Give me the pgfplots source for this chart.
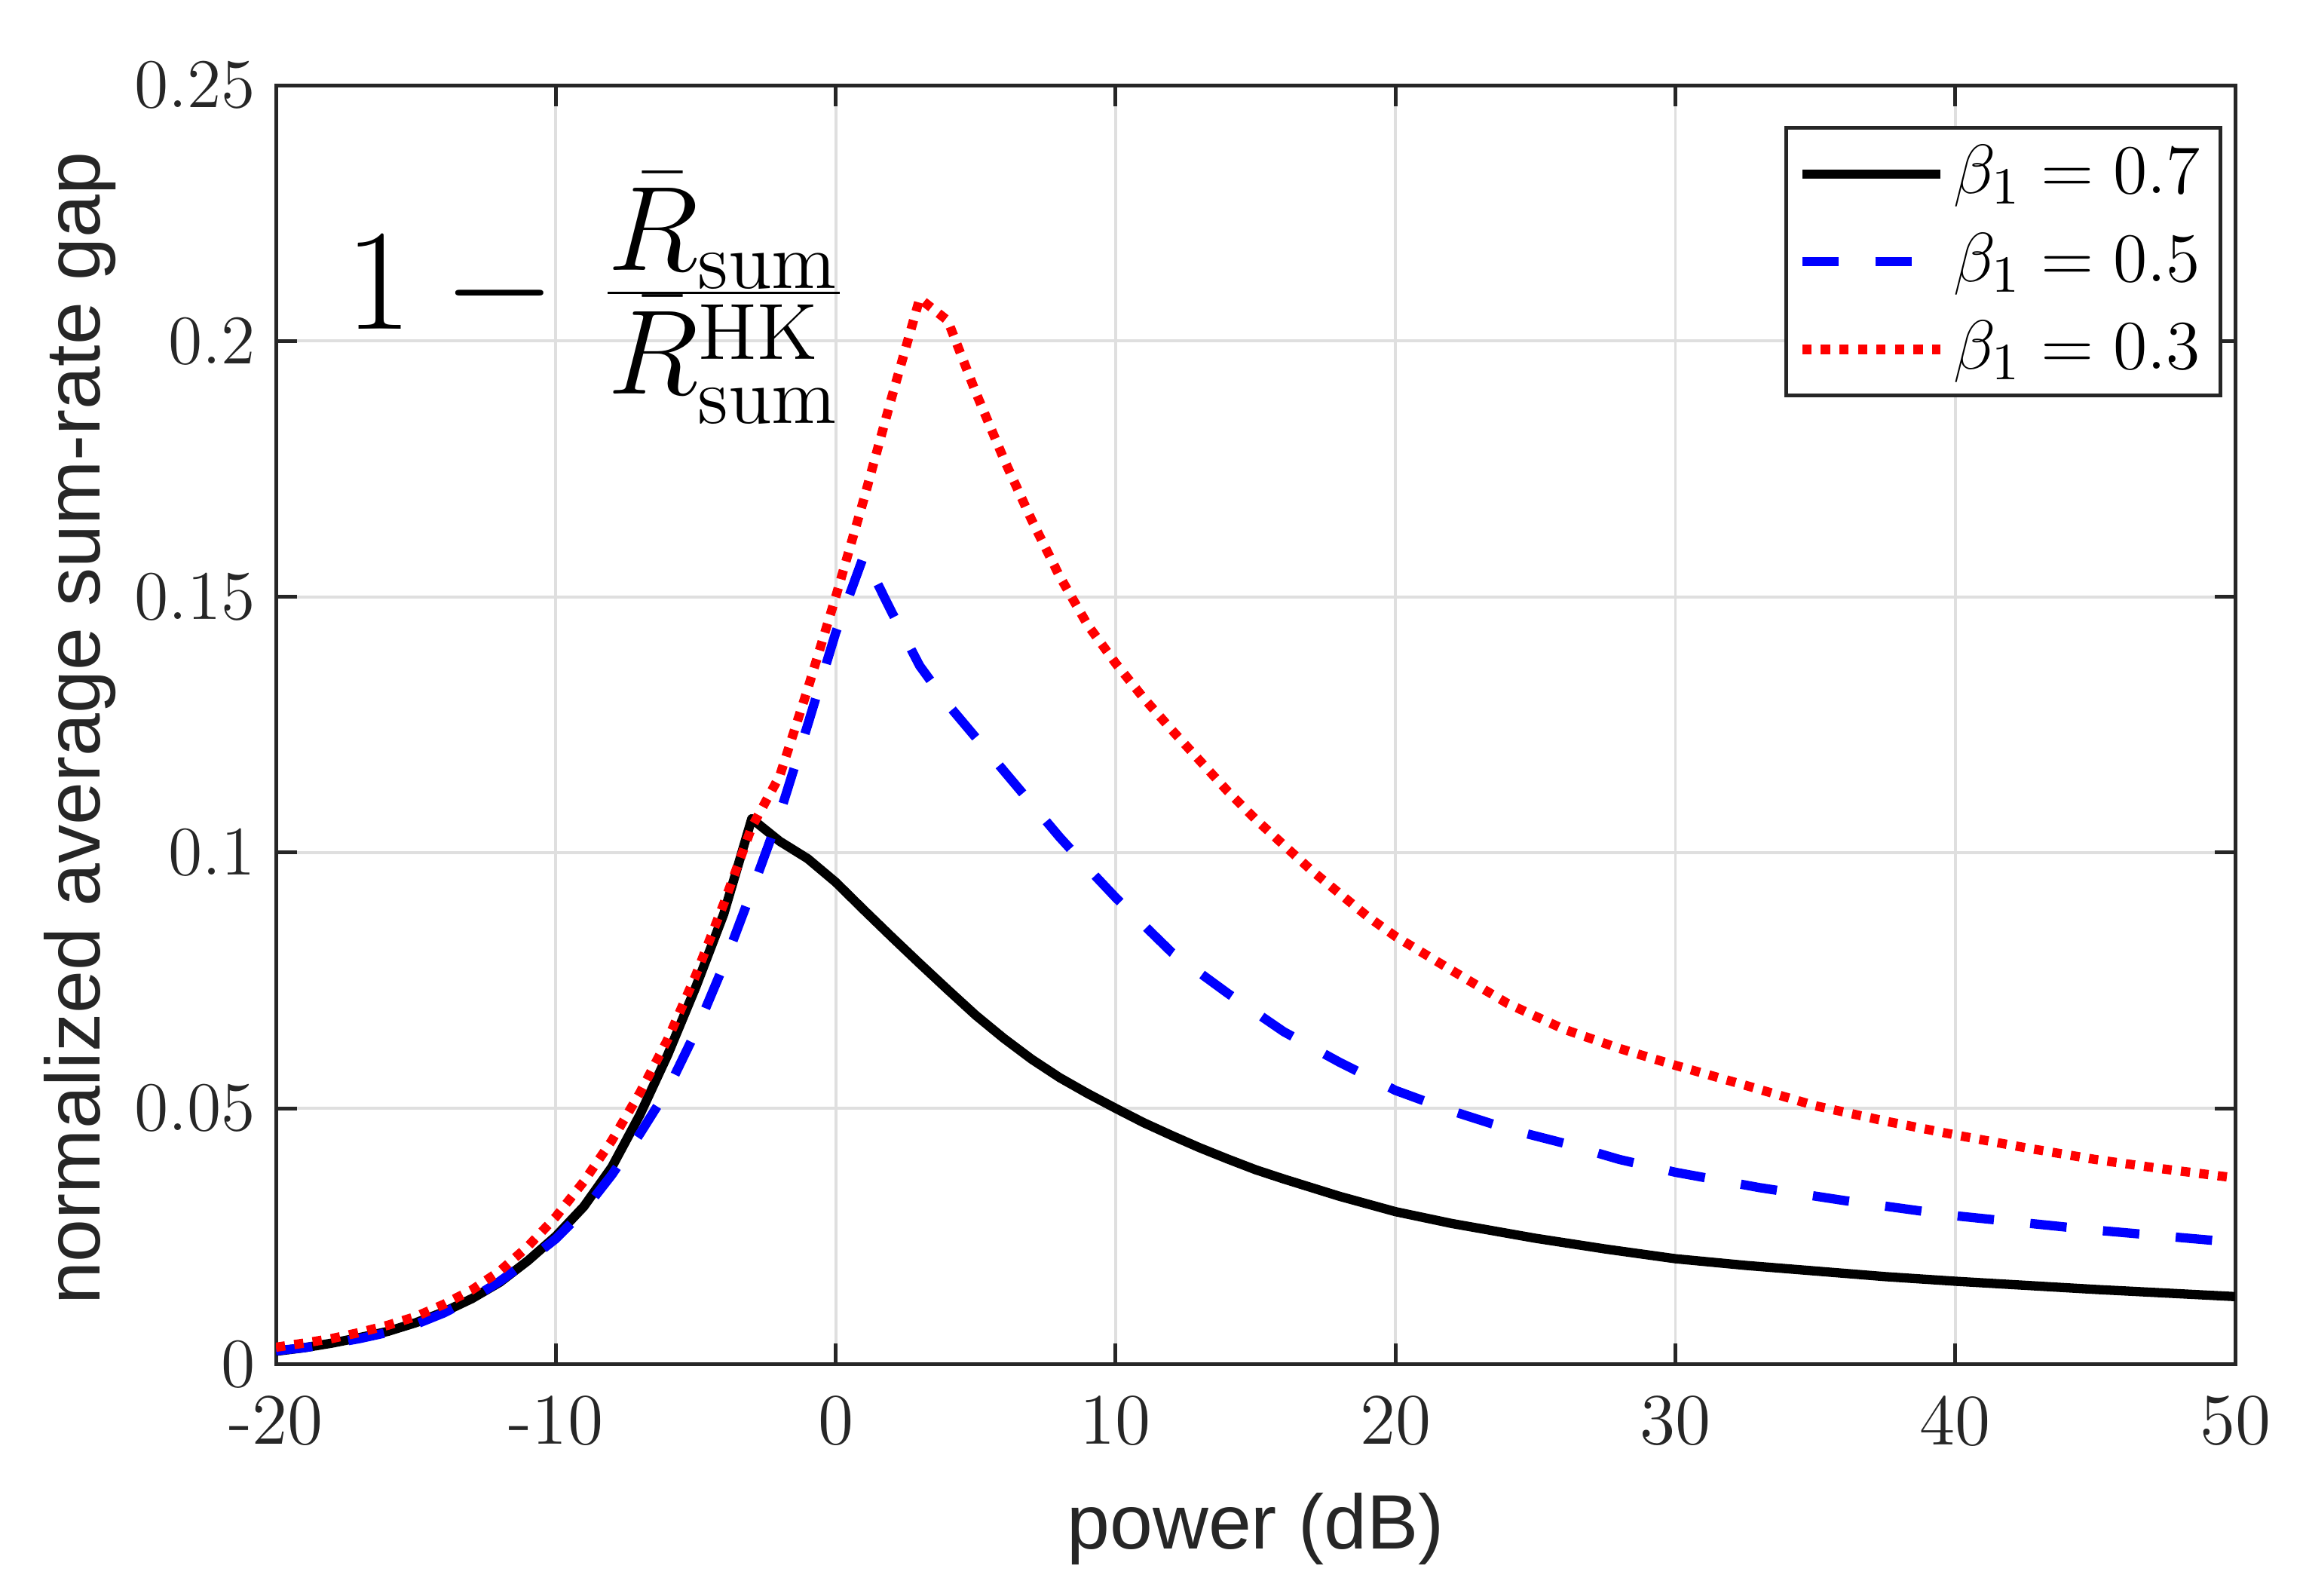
\documentclass[border=0pt]{standalone}
\usepackage{fontspec}
\usepackage{pgfplots}
\pgfplotsset{compat=1.18}
\newfontfamily\labfont{Liberation Sans}
\definecolor{axgray}{rgb}{0.15,0.15,0.15}
\definecolor{gridgray}{rgb}{0.875,0.875,0.875}
\definecolor{mblue}{rgb}{0,0,1}
\definecolor{mred}{rgb}{1,0,0}
\begin{document}
\begin{tikzpicture}
\path[use as bounding box] (-47.6pt,-39.9pt) rectangle (350.2pt,235.3pt);
\begin{axis}[
  at={(0,0)}, anchor=south west,
  scale only axis, width=338pt, height=220.6pt,
  xmin=-20, xmax=50, ymin=0, ymax=0.25,
  xtick={-20,-10,0,10,20,30,40,50},
  xticklabels={-20,-10,0,10,20,30,40,50},
  ytick={0,0.05,0.1,0.15,0.2,0.25},
  yticklabel style={/pgf/number format/fixed,/pgf/number format/precision=2},
  tick align=inside, major tick length=3.6pt,
  tick style={axgray, line width=0.65pt},
  axis line style={axgray, line width=0.65pt},
  grid=major, major grid style={gridgray, line width=0.5pt},
  ticklabel style={font=\fontsize{12.5}{15}\selectfont, text=axgray},
  xticklabel style={yshift=-1.9pt},
  xlabel={power (dB)},
  ylabel={normalized average sum-rate gap},
  label style={font=\labfont\fontsize{13.3}{16}\selectfont, text=axgray},
  xlabel style={at={(axis description cs:0.5,-0.1446)}, anchor=base, inner sep=0pt},
  ylabel style={at={(axis description cs:-0.0899,0.497)}, anchor=base, inner sep=0pt},
  legend style={at={(rel axis cs:0.9935,0.968)}, anchor=north east,
    draw=axgray, line width=0.65pt, fill=white,
    font=\fontsize{12.9}{15}\selectfont,
    inner xsep=2pt, inner ysep=1.5pt, row sep=2.3pt,
    nodes={inner sep=1.5pt}, cells={anchor=west}},
  legend image code/.code={\draw[#1] (0pt,0pt) -- (23.8pt,0pt);},
  every axis plot/.append style={line width=1.6pt, line cap=butt, line join=round},
]
\addplot[black, solid] coordinates {
(-20,0.0025) (-19,0.0032) (-18,0.0041) (-17,0.0052) (-16,0.0064) (-15,0.0081)
(-14,0.0102) (-13,0.0128) (-12,0.0160) (-11,0.0202) (-10,0.0250) (-9,0.0308)
(-8,0.0385) (-7,0.0487) (-6,0.0605) (-5,0.0737) (-4,0.0880) (-3,0.1066)
(-2,0.1022) (-1,0.0988) (0,0.0942) (1,0.0888) (2,0.0835) (3,0.0783)
(4,0.0732) (5,0.0682) (6,0.0637) (7,0.0596) (8,0.0560) (9,0.0529) (10,0.0500)
(11,0.0472) (12,0.0447) (13,0.0423) (14,0.0401) (15,0.0380) (16,0.0362)
(18,0.0328) (20,0.0298) (22,0.0275)
(25,0.0246) (27.5,0.0225) (30,0.0206) (32.5,0.0193) (35,0.0182) (37.5,0.0171)
(40,0.0162) (42.5,0.0154) (45,0.0146) (47.5,0.0139) (50,0.0132)
};
\addlegendentry{$\beta_1 = 0.7$}
\addplot[mblue, dash pattern=on 6.3pt off 6.3pt] coordinates {
(-20,0.0026) (-19,0.0032) (-18,0.0040) (-17,0.0050) (-16,0.0062) (-15,0.0078)
(-14,0.0100) (-13,0.0128) (-12,0.0162) (-11,0.0202) (-10,0.0245) (-9,0.0300)
(-8,0.0370) (-7,0.0450) (-6,0.0537) (-5,0.0650) (-4,0.0780) (-3,0.0925)
(-2,0.1075) (-1,0.1250) (0,0.1430) (1,0.1580) (2,0.1470) (3,0.1365)
(4,0.1290) (5,0.1225) (6,0.1160) (7,0.1095) (8,0.1030) (9,0.0970) (10,0.0912)
(12,0.0805) (14,0.0725) (16,0.0650) (18,0.0590) (20,0.0535) (22,0.0495)
(24,0.0460) (26,0.0432) (28,0.0400) (30,0.0375) (33,0.0345) (36,0.0320)
(40,0.0290) (45,0.0262) (50,0.0238)
};
\addlegendentry{$\beta_1 = 0.5$}
\addplot[mred, dash pattern=on 1.6pt off 1.6pt] coordinates {
(-20,0.0033) (-19,0.0041) (-18,0.0050) (-17,0.0062) (-16,0.0076) (-15,0.0093)
(-14,0.0117) (-13,0.0145) (-12,0.0182) (-11,0.0230) (-10,0.0288) (-9,0.0357)
(-8,0.0437) (-7,0.0530) (-6,0.0635) (-5,0.0760) (-4,0.0900) (-3,0.1050)
(-2,0.1150) (-1,0.1320) (0,0.1500) (1,0.1690) (2,0.1890) (3,0.2083)
(4,0.2040) (5,0.1900) (6,0.1770) (7,0.1650) (8,0.1540) (9,0.1445) (10,0.1370)
(11,0.1302) (12,0.1240) (13,0.1180) (14,0.1120) (15,0.1065) (16,0.1015)
(17,0.0965) (18,0.0920) (19,0.0875) (20,0.0836) (22,0.0770) (24,0.0705)
(26,0.0655) (28,0.0617) (30,0.0584) (32.5,0.0545) (35,0.0505) (37.5,0.0475)
(40,0.0448) (42.5,0.0423) (45,0.0400) (47.5,0.0381) (50,0.0364)
};
\addlegendentry{$\beta_1 = 0.3$}
\node[anchor=base west, inner sep=0pt, font=\fontsize{27.5}{33}\selectfont]
  at (axis cs:-17.55,0.2024)
  {$1-\mskip 1.6mu\frac{\bar{R}_{\mathrm{sum}}}{\bar{R}_{\mathrm{sum}}^{\mathrm{HK}}}$};
\end{axis}
\end{tikzpicture}
\end{document}
